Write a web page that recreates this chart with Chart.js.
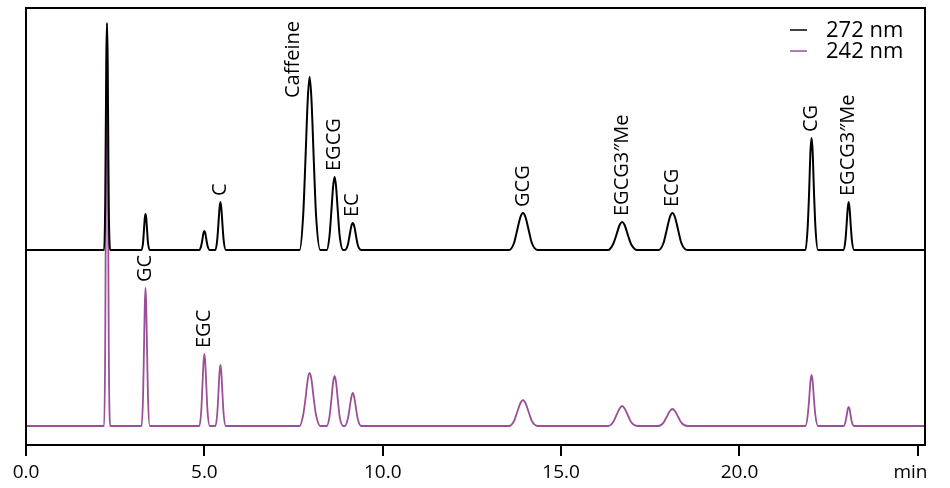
<!DOCTYPE html>
<html>
<head>
<meta charset="utf-8">
<script src="https://cdn.jsdelivr.net/npm/chart.js@4"></script>
<style>
  html, body { margin: 0; padding: 0; background: #fff; }
  #wrap { width: 950px; height: 488px; }
</style>
</head>
<body>
<div id="wrap"><canvas id="chrom"></canvas></div>
<script>
// retention time grid (min), shared by both detector traces
const retentionTime = [
  0,
  2.19, 2.22, 2.235, 2.255, 2.27, 2.285, 2.305, 2.32, 2.36,
  3.24, 3.28, 3.303, 3.33, 3.35, 3.37, 3.397, 3.42, 3.47,
  4.86, 4.91, 4.94, 4.975, 5.0, 5.025, 5.06, 5.09, 5.15,
  5.31, 5.36, 5.39, 5.425, 5.45, 5.475, 5.51, 5.54, 5.60,
  7.67, 7.77, 7.83, 7.90, 7.95, 8.00, 8.07, 8.13, 8.25,
  8.43, 8.51, 8.556, 8.61, 8.65, 8.69, 8.744, 8.79, 8.89,
  8.94, 9.02, 9.066, 9.12, 9.16, 9.20, 9.254, 9.30, 9.40,
  13.54, 13.68, 13.76, 13.86, 13.93, 14.00, 14.10, 14.18, 14.35,
  16.32, 16.46, 16.54, 16.64, 16.71, 16.78, 16.88, 16.96, 17.13,
  17.73, 17.87, 17.95, 18.05, 18.12, 18.19, 18.29, 18.37, 18.54,
  21.85, 21.91, 21.95, 21.99, 22.02, 22.05, 22.09, 22.13, 22.20,
  22.92, 22.97, 23.00, 23.035, 23.06, 23.085, 23.12, 23.15, 23.21,
  25.2
];

// 272 nm signal (arbitrary units)
const signal272 = [
  0,
  0, 45, 114, 200, 227, 200, 114, 45, 0,
  0, 7, 18, 32, 36, 32, 18, 7, 0,
  0, 4, 9.5, 17, 19, 17, 9.5, 4, 0,
  0, 10, 24, 42, 48, 42, 24, 10, 0,
  0, 35, 87, 152, 173, 152, 87, 35, 0,
  0, 15, 37, 64, 73, 64, 37, 15, 0,
  0, 5, 13.5, 24, 27, 24, 13.5, 5, 0,
  0, 7, 18.5, 33, 37, 33, 18.5, 7, 0,
  0, 6, 14, 25, 28, 25, 14, 6, 0,
  0, 7, 18.5, 33, 37, 33, 18.5, 7, 0,
  0, 22, 56, 99, 112, 99, 56, 22, 0,
  0, 10, 24, 42, 48, 42, 24, 10, 0,
  0
];

// 242 nm signal (arbitrary units)
const signal242 = [
  0,
  0, 80, 200, 352, 400, 352, 200, 80, 0,
  0, 28, 69, 121, 138, 121, 69, 28, 0,
  0, 14, 36, 63, 72, 63, 36, 14, 0,
  0, 12, 30, 54, 61, 54, 30, 12, 0,
  0, 11, 26, 47, 53, 47, 26, 11, 0,
  0, 10, 25, 44, 50, 44, 25, 10, 0,
  0, 7, 16.5, 29, 33, 29, 16.5, 7, 0,
  0, 5, 13, 23, 26, 23, 13, 5, 0,
  0, 4, 10, 17.5, 20, 17.5, 10, 4, 0,
  0, 3.4, 8.5, 15, 17, 15, 8.5, 3.4, 0,
  0, 10, 25.5, 45, 51, 45, 25.5, 10, 0,
  0, 4, 9.5, 17, 19, 17, 9.5, 4, 0,
  0
];

// peak annotations
const peakNames = ['C', 'Caffeine', 'EGCG', 'EC', 'GCG', 'EGCG3\u2033Me', 'ECG', 'CG', 'EGCG3\u2033Me', 'GC', 'EGC'];
const peakTimes = [5.45, 7.95, 8.65, 9.16, 13.93, 16.71, 18.12, 22.02, 23.06, 3.35, 5.0];
const peakTrace = [0, 0, 0, 0, 0, 0, 0, 0, 0, 1, 1]; // dataset index

const xTicks = [0, 5, 10, 15, 20, 25];
const traceOffset = 176; // vertical stacking of the 272 nm trace

const FONT = "'Open Sans', 'Noto Sans', sans-serif";
const PURPLE = '#9a4f96';

// hand-placed label nudges (px), only Caffeine sits beside its peak
const labelShift = { 'Caffeine': [-16, 27] };

const framePlugin = {
  id: 'frame',
  afterDatasetsDraw(chart) {
    const { ctx, chartArea: a } = chart;
    ctx.save();
    ctx.strokeStyle = '#000';
    ctx.lineWidth = 2;
    ctx.beginPath();
    ctx.moveTo(a.left, a.bottom);
    ctx.lineTo(a.left, a.top);
    ctx.lineTo(a.right, a.top);
    ctx.lineTo(a.right, a.bottom);
    ctx.stroke();
    ctx.restore();
  }
};

const peakLabelPlugin = {
  id: 'peakLabels',
  afterDatasetsDraw(chart) {
    const { ctx } = chart;
    const xs = chart.scales.x, ys = chart.scales.y;
    ctx.save();
    ctx.fillStyle = '#000';
    ctx.font = '20px ' + FONT;
    ctx.textAlign = 'left';
    ctx.textBaseline = 'middle';
    peakNames.forEach((name, i) => {
      const pts = chart.data.datasets[peakTrace[i]].data;
      let top = -Infinity;
      pts.forEach(p => { if (Math.abs(p.x - peakTimes[i]) < 0.05 && p.y > top) top = p.y; });
      const shift = labelShift[name] || [0, 0];
      const px = xs.getPixelForValue(peakTimes[i]) + shift[0];
      const py = ys.getPixelForValue(top) - 6 + shift[1];
      ctx.save();
      ctx.translate(px, py);
      ctx.rotate(-Math.PI / 2);
      ctx.fillText(name, 0, 0);
      ctx.restore();
    });
    ctx.restore();
  }
};

const legendPlugin = {
  id: 'traceLegend',
  afterDraw(chart) {
    const { ctx, chartArea: a } = chart;
    ctx.save();
    ctx.font = '22px ' + FONT;
    ctx.textBaseline = 'middle';
    ctx.textAlign = 'left';
    chart.data.datasets.forEach((ds, i) => {
      const y = a.top + 22 + i * 21;
      ctx.strokeStyle = ds.borderColor;
      ctx.lineWidth = 1.5;
      ctx.beginPath();
      ctx.moveTo(a.right - 135, y);
      ctx.lineTo(a.right - 118, y);
      ctx.stroke();
      ctx.fillStyle = '#000';
      ctx.fillText(ds.label, a.right - 99, y + 1);
    });
    ctx.restore();
  }
};

const toPoints = (sig, off) => retentionTime.map((t, i) => ({ x: t, y: sig[i] + off }));

new Chart(document.getElementById('chrom'), {
  type: 'line',
  data: {
    datasets: [
      {
        label: '272 nm',
        data: toPoints(signal272, traceOffset),
        borderColor: '#000',
        borderWidth: 2,
        pointRadius: 0,
        cubicInterpolationMode: 'monotone',
        order: 0
      },
      {
        label: '242 nm',
        data: toPoints(signal242, 0),
        borderColor: PURPLE,
        borderWidth: 1.8,
        pointRadius: 0,
        cubicInterpolationMode: 'monotone',
        order: 1
      }
    ]
  },
  options: {
    responsive: true,
    maintainAspectRatio: false,
    animation: false,
    layout: { padding: { left: 26, right: 25, top: 8, bottom: -2 } },
    plugins: { legend: { display: false }, tooltip: { enabled: false } },
    scales: {
      x: {
        type: 'linear',
        min: 0,
        max: 25.2,
        afterBuildTicks: s => { s.ticks = xTicks.map(v => ({ value: v })); },
        ticks: {
          color: '#000',
          font: { family: FONT, size: 19, lineHeight: 1 },
          padding: 7.5,
          maxRotation: 0,
          callback: v => v === 25 ? 'min   ' : v.toFixed(1)
        },
        grid: { drawOnChartArea: false, drawTicks: true, tickLength: 11, color: '#000', lineWidth: 2 },
        border: { display: true, color: '#000', width: 2 }
      },
      y: {
        display: false,
        min: -19,
        max: 418
      }
    }
  },
  plugins: [framePlugin, peakLabelPlugin, legendPlugin]
});
</script>
</body>
</html>
